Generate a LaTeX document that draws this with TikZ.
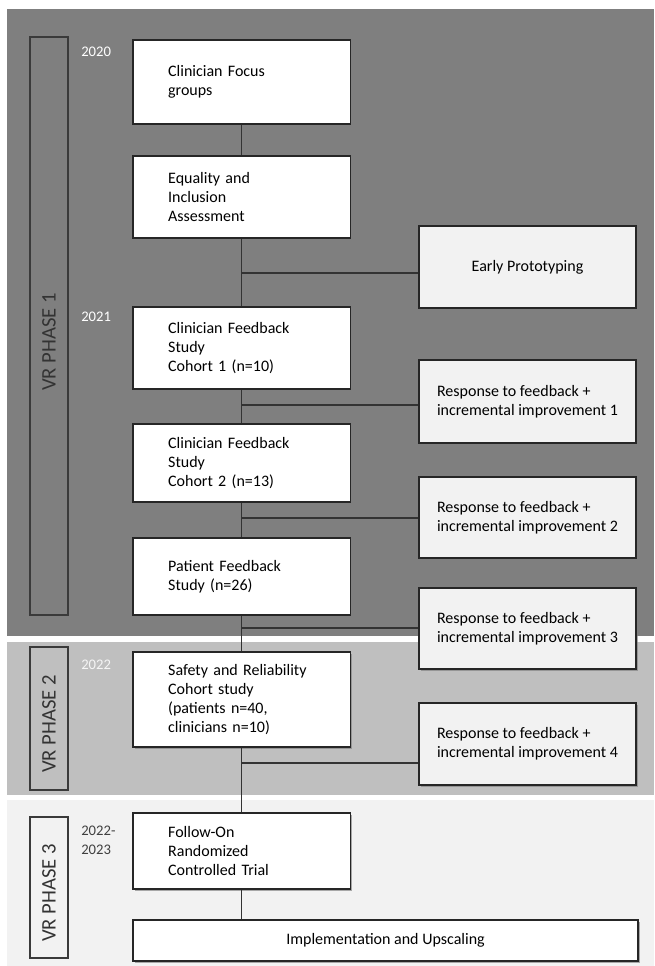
\documentclass[tikz,border=0pt]{standalone}
\usepackage{fontspec}
\setmainfont{Carlito}
\usetikzlibrary{shadows, positioning}
\definecolor{bandone}{HTML}{7F7F7F}
\definecolor{bandtwo}{HTML}{BFBFBF}
\definecolor{bandthree}{HTML}{F2F2F2}
\definecolor{edgegray}{HTML}{3A3A3A}

\begin{document}
\begin{tikzpicture}[x=0.75pt, y=-0.75pt,
    boxlook/.style={draw=black!85, line width=0.8pt, fill=white, inner ysep=0pt,
        font=\fontsize{12}{14.25}\selectfont,
        drop shadow={shadow xshift=1.3pt, shadow yshift=-1.3pt, opacity=0.65}},
    stagebox/.style={boxlook, align=left, text width=110pt, inner xsep=26.4pt},
    loopbox/.style={boxlook, fill=bandthree, align=left, minimum width=162.75pt},
    widebox/.style={boxlook, minimum width=378.75pt, minimum height=30.75pt},
    phasebox/.style={draw=edgegray, line width=0.8pt, minimum width=28.5pt},
    phaselbl/.style={rotate=90, inner sep=0pt, text=black!80,
        font=\fontsize{15.5}{18}\selectfont},
    yearlbl/.style={anchor=west, inner sep=0pt, font=\fontsize{11}{14.25}\selectfont},
    link/.style={draw=black!80, line width=0.8pt}]

    \useasboundingbox (0,0) rectangle (654,966);

    % phase bands
    \fill[bandone] (7,9) rectangle (654,636);
    \fill[bandtwo] (7,642) rectangle (654,795);
    \fill[bandthree] (7,800) rectangle (654,966);

    % phase labels
    \node[phasebox, fill=bandone, minimum height=433.5pt] (ph1box) at (49,326) {};
    \node[phaselbl] (ph1) at (49,342) {VR PHASE 1};
    \node[phasebox, fill=bandtwo, minimum height=107.25pt] (ph2box) at (49,718.5) {};
    \node[phaselbl] (ph2) at (49,724) {VR PHASE 2};
    \node[phasebox, fill=bandthree, minimum height=105.75pt] (ph3box) at (49,887.5) {};
    \node[phaselbl] (ph3) at (49,893) {VR PHASE 3};

    % years
    \node[yearlbl, text=white] (y20) at (81,52) {2020};
    \node[yearlbl, text=white] (y21) at (81,317) {2021};
    \node[yearlbl, text=white!85!bandtwo] (y22) at (81,665) {2022};
    \node[yearlbl, text=black!75, align=left] (y23) at (81,840) {2022-\\2023};

    % main line
    \node[stagebox, minimum height=63pt] (focus) at (241.5,82) {Clinician Focus\\groups};
    \node[stagebox, minimum height=61.5pt] (equality) at (241.5,197) {Equality and\\Inclusion\\Assessment};
    \node[stagebox, minimum height=61.5pt] (cohort1) at (241.5,348) {Clinician Feedback\\Study\\Cohort 1 (n=10)};
    \node[stagebox, minimum height=58.5pt] (cohort2) at (241.5,463) {Clinician Feedback\\Study\\Cohort 2 (n=13)};
    \node[stagebox, minimum height=57.75pt] (patient) at (241.5,576.5) {Patient Feedback\\Study (n=26)};
    \node[stagebox, minimum height=71.25pt] (safety) at (241.5,699.5) {Safety and Reliability\\Cohort study\\(patients n=40,\\clinicians n=10)};
    \node[stagebox, minimum height=57pt] (rct) at (241.5,851) {Follow-On\\Randomized\\Controlled Trial};
    \node[widebox] (upscale) at (385.5,940.5) {Implementation and Upscaling};

    % feedback loop
    \node[loopbox, align=center, minimum height=61.5pt] (proto) at (527.5,267) {Early Prototyping};
    \node[loopbox, minimum height=62.25pt] (resp1) at (527.5,401.5) {Response to feedback +\\incremental improvement 1};
    \node[loopbox, minimum height=60.75pt] (resp2) at (527.5,517.5) {Response to feedback +\\incremental improvement 2};
    \node[loopbox, minimum height=60.75pt] (resp3) at (527.5,628.5) {Response to feedback +\\incremental improvement 3};
    \node[loopbox, minimum height=61.5pt] (resp4) at (527.5,744) {Response to feedback +\\incremental improvement 4};

    \coordinate (j0) at (241.5,273);
    \coordinate (j1) at (241.5,405);
    \coordinate (j2) at (241.5,518);
    \coordinate (j3) at (241.5,628);
    \coordinate (j4) at (241.5,763);

    \draw[link] (focus) -- (equality);
    \draw[link] (equality) -- (cohort1);
    \draw[link] (cohort1) -- (cohort2);
    \draw[link] (cohort2) -- (patient);
    \draw[link] (patient) -- (safety);
    \draw[link] (safety) -- (rct);
    \draw[link] (rct) -- (rct |- upscale.north);

    \draw[link] (j0) -- (j0 -| proto.west);
    \draw[link] (j1) -- (j1 -| resp1.west);
    \draw[link] (j2) -- (j2 -| resp2.west);
    \draw[link] (j3) -- (j3 -| resp3.west);
    \draw[link] (j4) -- (j4 -| resp4.west);
\end{tikzpicture}
\end{document}
